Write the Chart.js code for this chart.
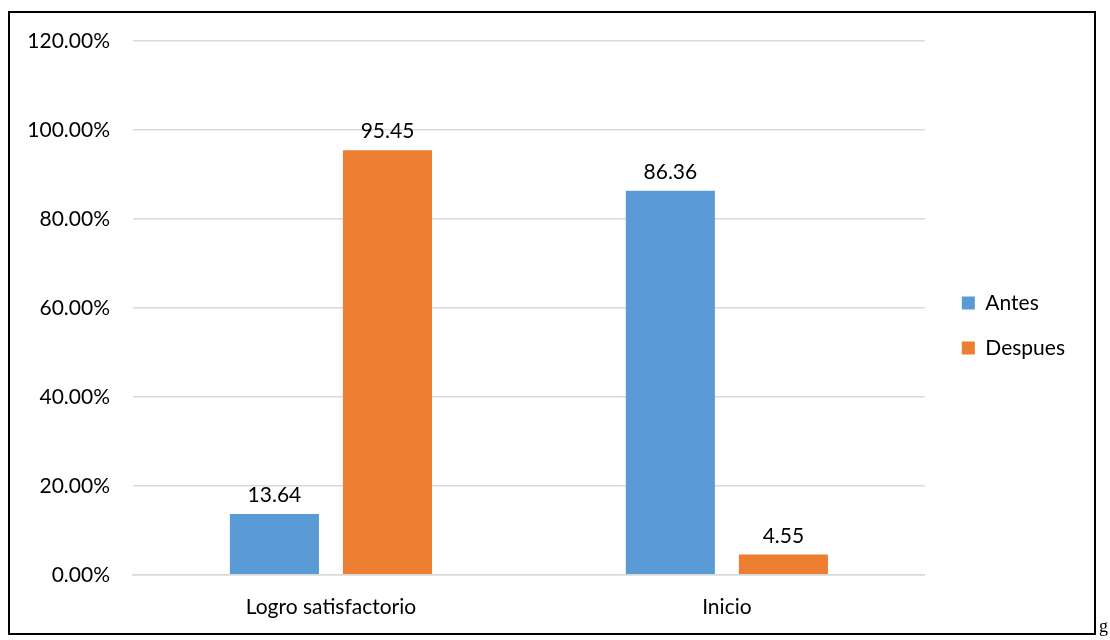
<!DOCTYPE html>
<html>
<head>
<meta charset="utf-8">
<script src="https://cdn.jsdelivr.net/npm/chart.js@4.4.0/dist/chart.umd.min.js"></script>
<style>
    html, body { margin: 0; padding: 0; background: #fff; }
    #wrap { position: relative; width: 1110px; height: 640px; }
    #frame { position: absolute; left: 8px; top: 11px; width: 1084px; height: 620px; border: 2px solid #000; pointer-events: none; }
    #tail { position: absolute; left: 1099px; top: 616px; font-family: "Liberation Serif", serif; font-size: 18px; color: #000; }
</style>
</head>
<body>
<div id="wrap">
    <canvas id="chart" width="1110" height="640"></canvas>
    <div id="frame"></div>
    <div id="tail">g</div>
</div>
<script>
// ============== DATA ==============
const categories = ['Logro satisfactorio', 'Inicio'];
const antesValues = [13.64, 86.36];
const despuesValues = [95.45, 4.55];
const seriesNames = ['Antes', 'Despues'];
const seriesColors = ['#5B9BD5', '#ED7D31'];

const FONT = 'Lato, "Noto Sans", sans-serif';
const FONT_SIZE = 21;

// Draw the value above each bar
const valueLabels = {
    id: 'valueLabels',
    afterDatasetsDraw(chart) {
        const ctx = chart.ctx;
        ctx.save();
        ctx.font = FONT_SIZE + 'px ' + FONT;
        ctx.fillStyle = '#000';
        ctx.textAlign = 'center';
        ctx.textBaseline = 'bottom';
        chart.data.datasets.forEach((ds, i) => {
            chart.getDatasetMeta(i).data.forEach((bar, j) => {
                ctx.fillText(ds.data[j].toFixed(2), bar.x, bar.y - 8);
            });
        });
        ctx.restore();
    }
};

// Nudge the legend a bit right and up, like the original
const legendShift = {
    id: 'legendShift',
    afterLayout(chart) {
        const lg = chart.legend;
        if (!lg) return;
        lg.left += 13; lg.right += 13;
        lg.top -= 15; lg.bottom -= 15;
    }
};

const ctx = document.getElementById('chart').getContext('2d');
new Chart(ctx, {
    type: 'bar',
    data: {
        labels: categories,
        datasets: [
            { label: seriesNames[0], data: antesValues, backgroundColor: seriesColors[0] },
            { label: seriesNames[1], data: despuesValues, backgroundColor: seriesColors[1] }
        ]
    },
    options: {
        responsive: false,
        animation: false,
        categoryPercentage: 0.571,
        barPercentage: 0.788,
        layout: { padding: { top: 41, right: 48, bottom: 0, left: 0 } },
        plugins: {
            legend: {
                position: 'right',
                labels: {
                    font: { family: FONT, size: FONT_SIZE },
                    color: '#000',
                    boxWidth: 13,
                    boxHeight: 13,
                    padding: 24
                }
            },
            tooltip: { enabled: false }
        },
        scales: {
            y: {
                min: 0,
                max: 120,
                ticks: {
                    stepSize: 20,
                    padding: 23,
                    color: '#000',
                    font: { family: FONT, size: FONT_SIZE },
                    callback: v => v.toFixed(2) + '%'
                },
                grid: { color: '#d9d9d9', lineWidth: 1.5, drawTicks: false },
                border: { display: false },
                afterFit: scale => { scale.width = 133; }
            },
            x: {
                ticks: {
                    padding: 20,
                    color: '#000',
                    font: { family: FONT, size: FONT_SIZE }
                },
                grid: { display: false, drawTicks: false },
                border: { color: '#d9d9d9', width: 1.5 }
            }
        }
    },
    plugins: [valueLabels, legendShift]
});
</script>
</body>
</html>
